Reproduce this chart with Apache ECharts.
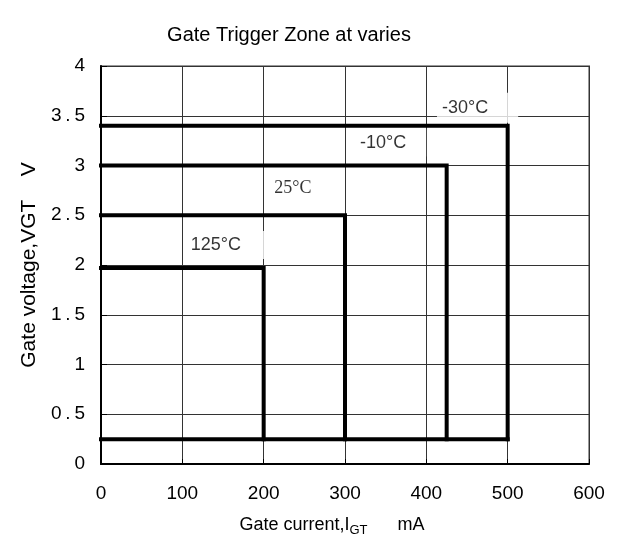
<!DOCTYPE html>
<html><head><meta charset="utf-8">
<script src="https://cdn.jsdelivr.net/npm/echarts@6/dist/echarts.min.js"></script>
<style>html,body{margin:0;padding:0;background:#fff}#c{width:620px;height:550px}</style>
</head><body><div id="c"></div>
<script>
// Data
const temps = ['-30°C', '-10°C', '25°C', '125°C'];
const vgtMax = [3.4, 3.0, 2.5, 1.97];      // V
const igtMax = [500, 425, 300, 200];       // mA
const vgtMin = 0.25;                        // V
const xTicks = [0, 100, 200, 300, 400, 500, 600];
const yTicks = [0, 0.5, 1, 1.5, 2, 2.5, 3, 3.5, 4];
// label anchor points (data coords)
const labelX = [463, 356, 236, 153];
const labelY = [3.58, 3.23, 2.77, 2.2];

const font = 'Liberation Sans, Arial, sans-serif';
const series = [];
temps.forEach((t, i) => {
  series.push({
    type: 'line', name: t, z: 4, symbol: 'none', silent: true,
    lineStyle: { color: '#000', width: 4, join: 'miter', cap: 'square' },
    data: [[0, vgtMax[i]], [igtMax[i], vgtMax[i]], [igtMax[i], vgtMin]]
  });
});
series.push({
  type: 'line', name: 'bottom', z: 4, symbol: 'none', silent: true,
  lineStyle: { color: '#000', width: 4, cap: 'square' },
  data: [[0, vgtMin], [Math.max(...igtMax), vgtMin]]
});
const pads = [[6, 30, 6, 5], [5, 20, 5, 5], [2, 4, 2, 4], [4, 24, 6, 5]];
series.push({
  type: 'scatter', z: 2, symbolSize: 0, silent: true,
  data: temps.map((t, i) => ({
    value: [labelX[i], labelY[i]],
    label: {
      show: true, position: 'inside', formatter: t,
      color: '#000', fontSize: 18,
      fontFamily: i === 2 ? 'Liberation Serif, Times New Roman, serif' : font,
      backgroundColor: '#fff', padding: pads[i]
    }
  }))
});

const chart = echarts.init(document.getElementById('c'));
chart.setOption({
  animation: false,
  backgroundColor: '#fff',
  title: {
    text: 'Gate Trigger Zone at varies', left: 284, top: 20, textAlign: 'center',
    textStyle: { fontFamily: font, fontSize: 20, fontWeight: 'normal', color: '#000' }
  },
  grid: { left: 101, right: 31, top: 66, bottom: 86, show: true, borderColor: '#999', borderWidth: 2, backgroundColor: 'transparent' },
  xAxis: {
    type: 'value', min: xTicks[0], max: xTicks[xTicks.length - 1], interval: 100,
    name: '{a|Gate current,I}{s|GT}{a|      mA}', nameLocation: 'middle', nameGap: 50,
    nameTextStyle: { padding: [0, 26, 0, 0], rich: {
      a: { fontFamily: font, fontSize: 18, color: '#000' },
      s: { fontFamily: font, fontSize: 13, color: '#000', verticalAlign: 'bottom', padding: [10, 0, 0, 0] }
    } },
    axisLine: { show: true, lineStyle: { color: '#000', width: 2 } },
    axisTick: { show: true, inside: true, length: 5, lineStyle: { color: '#000' } },
    axisLabel: { fontFamily: font, fontSize: 19, color: '#000', margin: 20 },
    splitLine: { show: true, lineStyle: { color: '#333', width: 1 } }
  },
  yAxis: {
    type: 'value', min: yTicks[0], max: yTicks[yTicks.length - 1], interval: 0.5,
    name: 'Gate voltage,VGT    V', nameLocation: 'middle', nameGap: 58,
    nameTextStyle: { fontFamily: font, fontSize: 21, color: '#000' },
    axisLine: { show: true, lineStyle: { color: '#000', width: 2 } },
    axisTick: { show: true, inside: true, length: 6, lineStyle: { color: '#000' } },
    axisLabel: { fontFamily: font, fontSize: 19, color: '#000', margin: 16,
      formatter: v => String(v).replace('.', '\u2009.\u2009') },
    splitLine: { show: true, lineStyle: { color: '#333', width: 1 } }
  },
  series: series
});
</script></body></html>
